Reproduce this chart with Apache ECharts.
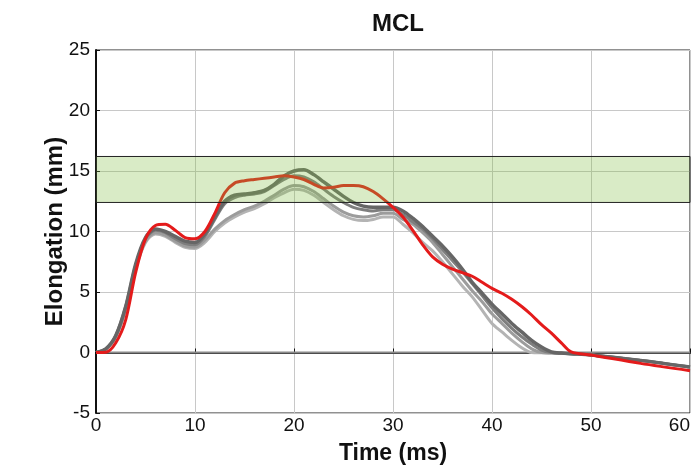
<!DOCTYPE html>
<html>
<head>
<meta charset="utf-8">
<script src="https://cdn.jsdelivr.net/npm/echarts@6/dist/echarts.min.js"></script>
<style>
html, body { margin: 0; padding: 0; background: #fff; }
#chart { width: 693px; height: 470px; }
</style>
</head>
<body>
<div id="chart"></div>
<script>
var time = [0,1,2,3,4,5,6,7,8,9,10,11,12,13,14,15,16,17,18,19,20,21,22,23,24,25,26,27,28,29,30,31,32,33,34,35,36,37,38,39,40,41,42,43,44,45,46,47,48,50,55,60];

var gray1 = [0,0.3,1.4,3.8,7.3,9.5,10.2,10.0,9.6,9.2,9.1,9.8,11.2,12.5,13.0,13.1,13.2,13.4,13.9,14.6,15.0,15.1,14.7,14.1,13.5,12.9,12.4,12.1,12.0,12.0,12.0,11.7,11.1,10.4,9.6,8.8,7.9,6.9,5.8,4.9,4.0,3.2,2.4,1.7,1.0,0.45,0.05,-0.05,-0.1,-0.2,-0.65,-1.2];
var gray2 = [0,0.3,1.4,3.8,7.2,9.4,10.1,9.9,9.4,9.0,8.9,9.6,11.0,12.3,12.8,13.0,13.1,13.3,13.8,14.3,14.6,14.5,14.1,13.5,12.9,12.4,12.0,11.8,11.7,11.8,11.8,11.4,10.8,10.2,9.4,8.5,7.6,6.7,5.7,4.7,3.7,2.8,2.0,1.3,0.7,0.2,0,-0.05,-0.1,-0.2,-0.65,-1.2];
var gray3 = [0,0.3,1.3,3.6,7.0,9.2,9.9,9.7,9.2,8.8,8.7,9.3,10.2,10.9,11.4,11.8,12.1,12.5,13.0,13.5,13.8,13.7,13.3,12.7,12.1,11.6,11.3,11.2,11.3,11.5,11.5,11.0,10.6,9.9,9.1,8.1,7.1,6.1,5.1,4.2,3.2,2.4,1.6,0.9,0.3,0,-0.05,-0.08,-0.1,-0.2,-0.65,-1.2];
var gray4 = [0,0.3,1.3,3.5,6.9,9.1,9.8,9.6,9.1,8.7,8.6,9.1,10.0,10.7,11.2,11.6,11.9,12.3,12.8,13.2,13.5,13.4,13.0,12.4,11.8,11.3,11.0,10.9,11.0,11.2,11.2,10.6,9.9,9.1,8.4,7.5,6.5,5.5,4.6,3.5,2.4,1.7,1.0,0.4,0,-0.03,-0.05,-0.08,-0.1,-0.2,-0.65,-1.2];
var red = [0,0.02,0.8,2.7,6.6,9.4,10.5,10.6,10.1,9.5,9.4,10.0,11.5,13.2,14.0,14.2,14.3,14.4,14.5,14.6,14.5,14.3,13.9,13.6,13.65,13.8,13.8,13.7,13.3,12.7,12.0,11.2,10.1,8.9,7.9,7.3,6.9,6.6,6.3,5.8,5.3,4.9,4.4,3.8,3.1,2.3,1.6,0.8,0.05,-0.2,-0.9,-1.5];

var zeroLine = [[0, 0], [60, 0]];
var bandLow = 12.4;
var bandHigh = 16.2;

var font = "Liberation Sans, Arial, sans-serif";

function pairs(values) {
    var out = [];
    for (var i = 0; i < time.length; i++) {
        out.push([time[i], values[i]]);
    }
    return out;
}

function curve(values, color, width) {
    return {
        type: "line",
        data: pairs(values),
        smooth: 0.3,
        showSymbol: false,
        symbol: "none",
        z: 3,
        lineStyle: { color: color, width: width }
    };
}

var chart = echarts.init(document.getElementById("chart"));

var option = {
    animation: false,
    title: {
        text: "MCL",
        left: 393,
        textAlign: "center",
        top: 7,
        textStyle: { fontFamily: font, fontSize: 24, fontWeight: "bold", color: "#111" }
    },
    grid: {
        left: 96, right: 3, top: 50, bottom: 57,
        outerBoundsMode: "none",
        containLabel: false,
        show: true, borderColor: "#222", borderWidth: 1
    },
    xAxis: {
        type: "value", min: 0, max: 60, interval: 10,
        name: "Time (ms)", nameLocation: "middle", nameGap: 29,
        nameMoveOverlap: false,
        nameTextStyle: { fontFamily: font, fontSize: 23, fontWeight: "bold", color: "#111" },
        axisLine: { lineStyle: { color: "#111", width: 2 } },
        axisTick: { inside: true, length: 4, lineStyle: { color: "#111" } },
        axisLabel: { fontFamily: font, fontSize: 19, color: "#111", margin: 3, alignMaxLabel: "right" },
        splitLine: { lineStyle: { color: "#c8c8c8", width: 1 } }
    },
    yAxis: {
        type: "value", min: -5, max: 25, interval: 5,
        name: "Elongation (mm)", nameLocation: "middle", nameGap: 29,
        nameMoveOverlap: false,
        nameTextStyle: { fontFamily: font, fontSize: 24, fontWeight: "bold", color: "#111" },
        axisLine: { show: true, lineStyle: { color: "#111", width: 2 } },
        axisTick: { show: true, inside: true, length: 4, lineStyle: { color: "#111" } },
        axisLabel: { fontFamily: font, fontSize: 19, color: "#111", margin: 6 },
        splitLine: { lineStyle: { color: "#c8c8c8", width: 1 } }
    },
    series: [
        {
            type: "line",
            data: zeroLine,
            showSymbol: false,
            symbol: "none",
            z: 2,
            lineStyle: { color: "#8a8a8a", width: 2 }
        },
        curve(gray4, "#b4b4b4", 3),
        curve(gray3, "#9c9c9c", 3),
        curve(gray2, "#7e7e7e", 3),
        curve(gray1, "#666666", 3.5),
        curve(red, "#e41b1b", 3),
        {
            type: "line",
            data: [],
            z: 6,
            markArea: {
                silent: true,
                z: 10,
                itemStyle: {
                    color: "rgba(128,188,65,0.3)",
                    borderColor: "#222",
                    borderWidth: 1
                },
                data: [[{ xAxis: 0, yAxis: bandLow }, { xAxis: 60, yAxis: bandHigh }]]
            }
        }
    ]
};

chart.setOption(option);
</script>
</body>
</html>
